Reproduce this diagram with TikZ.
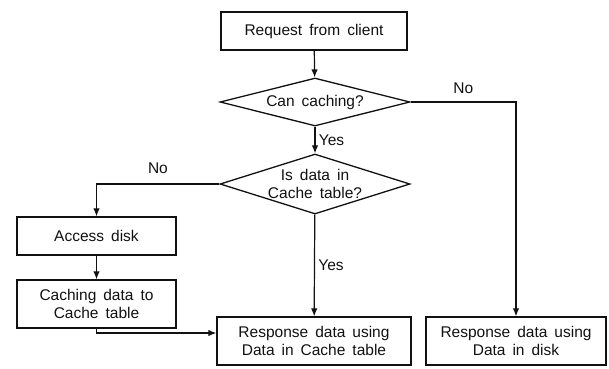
\documentclass[tikz,border=0pt]{standalone}
\usepackage{fontspec}
\setsansfont{Liberation Sans}
\usetikzlibrary{arrows.meta,shapes.geometric}
\definecolor{ink}{HTML}{111111}
\newcommand\flowfont{\sffamily\fontsize{15.5}{17.5}\selectfont\spaceskip=7pt\relax}

\begin{document}
\begin{tikzpicture}[x=1pt,y=-1pt,font=\flowfont,text=ink,>={Latex[length=8pt,width=6.5pt]},
  box/.style={draw=ink,line width=1.3pt,align=center,inner sep=2pt},
  decision/.style={diamond,draw=ink,line width=1.3pt,align=center,inner xsep=0pt,inner ysep=-12pt,shape aspect=3.5},
  link/.style={->,draw=ink,line width=1.2pt}]
  \useasboundingbox (0,0) rectangle (609,368);
  \node[box,minimum width=186pt,minimum height=38pt] (request) at (314,31) {Request from client};
  \node[decision,minimum width=190pt,minimum height=48pt] (cancache) at (315,102) {Can caching?};
  \node[decision,minimum width=190pt,minimum height=60pt] (incache) at (315,184) {Is data in\\Cache table?};
  \node[box,minimum width=159pt,minimum height=38pt] (access) at (96.5,236) {Access disk};
  \node[box,minimum width=159pt,minimum height=48pt] (tocache) at (96.5,304) {Caching data to\\Cache table};
  \node[box,minimum width=194pt,minimum height=48pt] (respcache) at (314,341) {Response data using\\Data in Cache table};
  \node[box,minimum width=180pt,minimum height=48pt] (respdisk) at (516,341) {Response data using\\Data in disk};

  \draw[link] (request) -- (cancache);
  \draw[link] (cancache) -- (incache) node[midway,right] {Yes};
  \draw[link] (cancache.east) -| (respdisk.north) node[pos=.25,above=4pt] {No};
  \draw[link] (incache.west) -| (access.north) node[pos=.25,above=6pt] {No};
  \draw[link] (incache) -- (respcache) node[midway,right] {Yes};
  \draw[link] (access) -- (tocache);
  \draw[link] (tocache.south) |- ([yshift=8pt]respcache.west);
\end{tikzpicture}
\end{document}
